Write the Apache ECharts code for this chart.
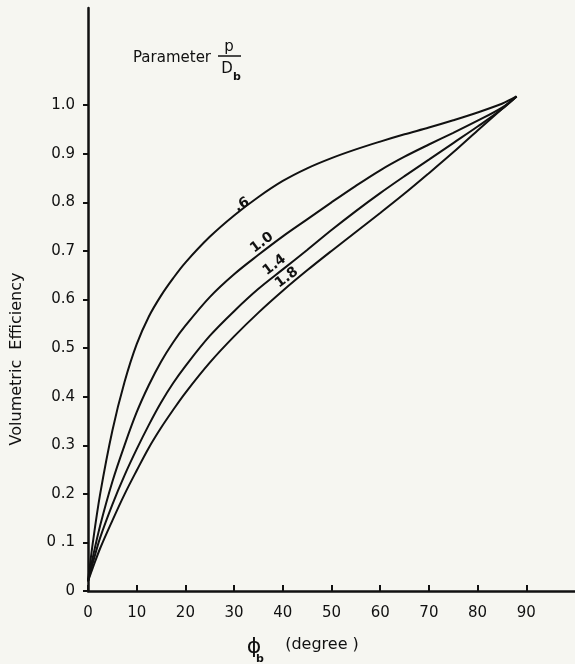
<!DOCTYPE html>
<html><head><meta charset="utf-8">
<script src="https://cdn.jsdelivr.net/npm/echarts@6/dist/echarts.min.js"></script>
<style>html,body{margin:0;padding:0;background:#f6f6f1}#c{width:575px;height:664px}</style>
</head><body><div id="c"></div>
<script>
const xTicks = [0, 10, 20, 30, 40, 50, 60, 70, 80, 90];
const yTicks = [0, 0.1, 0.2, 0.3, 0.4, 0.5, 0.6, 0.7, 0.8, 0.9, 1.0];
const yTickLabels = ['0', '0 .1', '0.2', '0.3', '0.4', '0.5', '0.6', '0.7', '0.8', '0.9', '1.0'];
const phi   = [0, 1, 2.5, 5, 7.5, 10, 12.5, 15, 17.5, 20, 25, 30, 35, 40, 45, 50, 55, 60, 65, 70, 75, 80, 85, 88];
const eff06 = [0.02, 0.10, 0.20, 0.33, 0.43, 0.508, 0.565, 0.608, 0.644, 0.676, 0.729, 0.773, 0.811, 0.844, 0.870, 0.891, 0.909, 0.925, 0.940, 0.954, 0.969, 0.985, 1.003, 1.018];
const eff10 = [0.02, 0.07, 0.135, 0.225, 0.30, 0.368, 0.424, 0.472, 0.512, 0.546, 0.605, 0.652, 0.692, 0.730, 0.765, 0.800, 0.834, 0.866, 0.894, 0.919, 0.943, 0.968, 0.995, 1.018];
const eff14 = [0.02, 0.058, 0.11, 0.178, 0.238, 0.292, 0.342, 0.388, 0.428, 0.463, 0.525, 0.576, 0.622, 0.662, 0.702, 0.743, 0.782, 0.819, 0.854, 0.888, 0.922, 0.956, 0.992, 1.018];
const eff18 = [0.02, 0.048, 0.088, 0.145, 0.199, 0.248, 0.295, 0.336, 0.373, 0.408, 0.47, 0.524, 0.573, 0.618, 0.66, 0.70, 0.739, 0.778, 0.818, 0.86, 0.903, 0.948, 0.992, 1.018];
const paramNames = ['.6', '1.0', '1.4', '1.8'];
const labelPhi = [31.6, 35.7, 38.3, 40.8];
const labelEff = [0.795, 0.717, 0.671, 0.645];
const labelRot = [30, 37, 37, 37];

const FONT = 'DejaVu Sans';
const INK = '#111111';
const curves = [eff06, eff10, eff14, eff18];

const series = curves.map((c, i) => ({
  type: 'line', name: paramNames[i], smooth: 0.35, symbol: 'none',
  lineStyle: { color: INK, width: 2 },
  data: phi.map((p, j) => [p, c[j]])
}));
series.push({
  type: 'scatter', symbolSize: 0, itemStyle: { color: INK, opacity: 1 },
  data: paramNames.map((n, i) => ({
    value: [labelPhi[i], labelEff[i]], name: n,
    label: { rotate: labelRot[i] }
  })),
  label: { show: true, position: 'inside', formatter: p => p.name, opacity: 1,
    color: INK, textBorderWidth: 0, fontFamily: FONT, fontSize: 14, fontWeight: 'bold' }
});

const chart = echarts.init(document.getElementById('c'), null, { renderer: 'canvas' });
chart.setOption({
  backgroundColor: '#f6f6f1',
  animation: false,
  grid: { left: 88, right: 0, top: 8, bottom: 73 },
  xAxis: {
    type: 'value', min: 0, max: 100, interval: 10,
    axisLine: { show: true, lineStyle: { color: INK, width: 2.5 } },
    axisTick: { show: true, inside: true, length: 6, customValues: xTicks, lineStyle: { color: INK, width: 2 } },
    axisLabel: { customValues: xTicks, margin: 15, fontSize: 15, color: INK, fontFamily: FONT },
    splitLine: { show: false }
  },
  yAxis: {
    type: 'value', min: 0, max: 1.2, interval: 0.1,
    axisLine: { show: true, lineStyle: { color: INK, width: 2.5 } },
    axisTick: { show: true, length: 5, customValues: yTicks, lineStyle: { color: INK, width: 2 } },
    axisLabel: { customValues: yTicks, margin: 13, fontSize: 15, color: INK, fontFamily: FONT,
      formatter: v => yTickLabels[Math.round(v * 10)] },
    splitLine: { show: false }
  },
  graphic: [
    { type: 'text', x: 17, y: 359, rotation: Math.PI / 2,
      style: { text: 'Volumetric  Efficiency', fill: INK, font: '16px ' + FONT, textAlign: 'center', textVerticalAlign: 'middle' } },
    { type: 'text', x: 254, y: 647,
      style: { text: 'ϕ', fill: INK, font: '22px ' + FONT, textAlign: 'center', textVerticalAlign: 'middle' } },
    { type: 'text', x: 260, y: 659,
      style: { text: 'b', fill: INK, font: 'bold 11px ' + FONT, textAlign: 'center', textVerticalAlign: 'middle' } },
    { type: 'text', x: 322, y: 645,
      style: { text: '(degree )', fill: INK, font: '16px ' + FONT, textAlign: 'center', textVerticalAlign: 'middle' } },
    { type: 'text', x: 133, y: 58,
      style: { text: 'Parameter', fill: INK, font: '15px ' + FONT, textAlign: 'left', textVerticalAlign: 'middle' } },
    { type: 'text', x: 229, y: 47,
      style: { text: 'p', fill: INK, font: '15px ' + FONT, textAlign: 'center', textVerticalAlign: 'middle' } },
    { type: 'line', shape: { x1: 218, y1: 56, x2: 241, y2: 56 }, style: { stroke: INK, lineWidth: 1.5 } },
    { type: 'text', x: 227, y: 69,
      style: { text: 'D', fill: INK, font: '15px ' + FONT, textAlign: 'center', textVerticalAlign: 'middle' } },
    { type: 'text', x: 237, y: 77,
      style: { text: 'b', fill: INK, font: 'bold 11px ' + FONT, textAlign: 'center', textVerticalAlign: 'middle' } }
  ],
  series: series
});
</script>
</body></html>
